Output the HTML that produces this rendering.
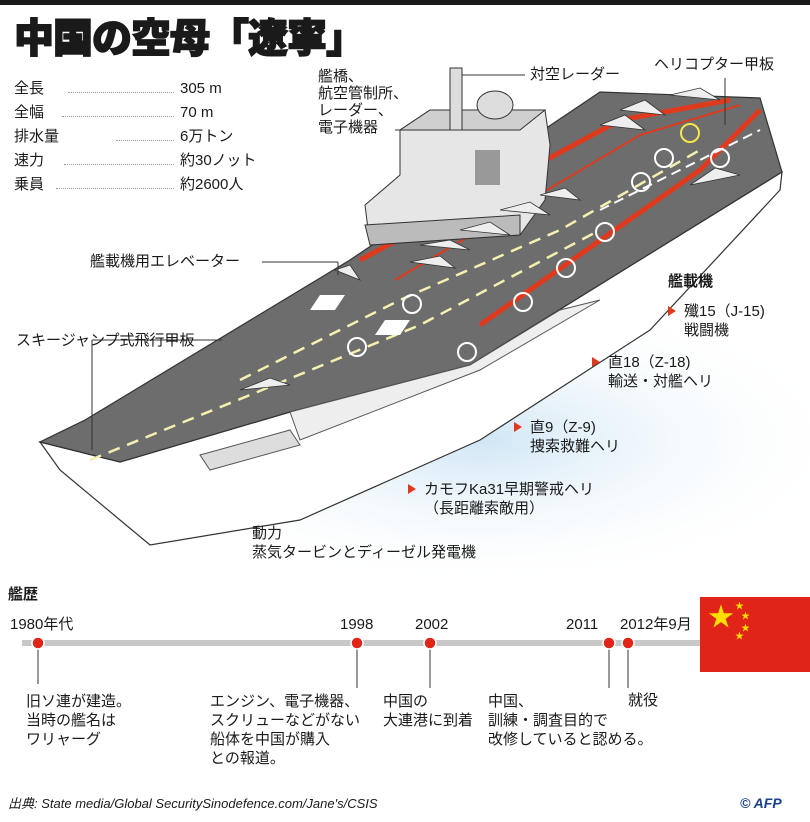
<!DOCTYPE html>
<html><head><meta charset="utf-8">
<style>
body{margin:0;background:#fff;}
#w{position:relative;width:810px;height:822px;overflow:hidden;font-family:"Liberation Sans","Noto Sans CJK JP",sans-serif;color:#1a1a1a;}
.t{position:absolute;font-size:15px;line-height:18px;white-space:nowrap;}
.dot{position:absolute;border-bottom:1px dotted #999;height:0;}
</style></head><body><div id="w">
<div style="position:absolute;left:0;top:0;width:810px;height:5px;background:#1a1a1a"></div>
<div class="t" style="left:14px;top:16px;font-size:40px;line-height:46px;font-weight:900;-webkit-text-stroke:1.5px #1a1a1a;letter-spacing:-1px">中国の空母「遼寧」</div>

<svg width="810" height="822" style="position:absolute;left:0;top:0">
<defs><radialGradient id="sea" cx="0.5" cy="0.5" r="0.5"><stop offset="0" stop-color="#cfe6f5"/><stop offset="1" stop-color="#fff" stop-opacity="0"/></radialGradient></defs>
<ellipse cx="480" cy="440" rx="380" ry="150" fill="url(#sea)"/>
<polygon points="40,442 60,470 150,545 300,520 480,440 650,330 780,190 782,172 470,365 290,412 120,462" fill="#fff" stroke="#333" stroke-width="1.2"/>
<polygon points="40,442 120,462 290,412 470,365 782,172 760,98 600,92 350,260 85,420" fill="#6d6d6d" stroke="#333" stroke-width="1.2"/>
<polygon points="290,412 470,365 560,310 600,300 480,370 300,440" fill="#eee" stroke="#555"/>
<polygon points="200,455 290,430 300,445 210,470" fill="#ddd" stroke="#555"/>
<polyline points="360,260 620,120 730,100" fill="none" stroke="#e03a1e" stroke-width="5"/>
<polyline points="480,325 700,170 760,110" fill="none" stroke="#e03a1e" stroke-width="5"/>
<polyline points="395,280 640,135 740,105" fill="none" stroke="#e03a1e" stroke-width="2"/>
<polyline points="90,460 250,395 420,325 600,230" fill="none" stroke="#f3f0b0" stroke-width="2.5" stroke-dasharray="12,8"/>
<polyline points="240,380 400,300 560,230 700,150" fill="none" stroke="#f3f0b0" stroke-width="2.5" stroke-dasharray="12,8"/>
<polyline points="600,210 700,160 760,130" fill="none" stroke="#fff" stroke-width="2" stroke-dasharray="10,6"/>
<g fill="none" stroke="#fff" stroke-width="2">
<circle cx="357" cy="347" r="9"/><circle cx="467" cy="352" r="9"/><circle cx="412" cy="304" r="9"/><circle cx="523" cy="302" r="9"/><circle cx="566" cy="268" r="9"/><circle cx="605" cy="232" r="9"/><circle cx="664" cy="158" r="9"/><circle cx="720" cy="158" r="9"/><circle cx="641" cy="182" r="9"/>
</g>
<circle cx="690" cy="133" r="9" fill="none" stroke="#f5e64a" stroke-width="2"/>
<polygon points="320,295 345,295 335,310 310,310" fill="#fff"/>
<polygon points="385,320 410,320 400,335 375,335" fill="#fff"/>
<polygon points="365,205 400,175 400,130 430,110 545,110 550,145 545,200 520,235 370,245" fill="#e6e6e6" stroke="#333"/>
<polygon points="400,130 430,110 545,110 520,130" fill="#cfcfcf" stroke="#333"/>
<rect x="450" y="68" width="12" height="62" fill="#ddd" stroke="#333"/>
<ellipse cx="495" cy="105" rx="18" ry="14" fill="#ddd" stroke="#333"/>
<rect x="475" y="150" width="25" height="35" fill="#999"/>
<polygon points="365,225 520,215 520,235 370,245" fill="#bbb" stroke="#333"/>
<g fill="#eee" stroke="#333" stroke-width="0.8">
<polygon points="420,245 470,250 450,240"/><polygon points="460,230 510,235 490,222"/><polygon points="500,210 550,215 530,202"/><polygon points="540,195 580,200 565,188"/>
<polygon points="410,262 455,268 440,256"/><polygon points="335,270 360,280 350,265"/>
<polygon points="240,390 290,385 270,378"/><polygon points="620,110 665,115 645,100"/><polygon points="600,125 645,130 625,115"/>
<polygon points="670,95 720,100 700,88"/><polygon points="690,185 740,175 715,168"/>
</g>
<g stroke="#333" stroke-width="1" fill="none">
<line x1="462" y1="75" x2="525" y2="75"/><line x1="395" y1="130" x2="425" y2="130"/>
<line x1="262" y1="262" x2="338" y2="262"/><line x1="338" y1="262" x2="338" y2="275"/>
<line x1="222" y1="340" x2="92" y2="340"/><line x1="92" y1="340" x2="92" y2="450"/>
<line x1="725" y1="78" x2="725" y2="125"/>
<line x1="38" y1="647" x2="38" y2="684"/><line x1="357" y1="647" x2="357" y2="688"/><line x1="430" y1="647" x2="430" y2="688"/><line x1="609" y1="647" x2="609" y2="688"/><line x1="628" y1="647" x2="628" y2="688"/>
</g>
<polygon points="668,306 676,311 668,316" fill="#e03a1e"/>
<polygon points="592,357 600,362 592,367" fill="#e03a1e"/>
<polygon points="514,422 522,427 514,432" fill="#e03a1e"/>
<polygon points="408,484 416,489 408,494" fill="#e03a1e"/>
<rect x="22" y="640" width="680" height="6" fill="#c8c8c8"/>
<g fill="#e02418" stroke="#fff" stroke-width="1.5"><circle cx="38" cy="643" r="6"/><circle cx="357" cy="643" r="6"/><circle cx="430" cy="643" r="6"/><circle cx="609" cy="643" r="6"/><circle cx="628" cy="643" r="6"/></g>
<rect x="700" y="597" width="110" height="75" fill="#e02418"/>
<text x="708" y="626" fill="#ffde00" font-size="26">★</text>
<g fill="#ffde00" font-size="9"><text x="735" y="609">★</text><text x="741" y="619">★</text><text x="741" y="631">★</text><text x="735" y="639">★</text></g>
</svg>

<div class="t" style="left:14px;top:80px">全長</div><div class="dot" style="left:68px;top:92px;width:106px"></div><div class="t" style="left:180px;top:80px">305 m</div>
<div class="t" style="left:14px;top:104px">全幅</div><div class="dot" style="left:62px;top:116px;width:112px"></div><div class="t" style="left:180px;top:104px">70 m</div>
<div class="t" style="left:14px;top:128px">排水量</div><div class="dot" style="left:116px;top:140px;width:58px"></div><div class="t" style="left:180px;top:128px">6万トン</div>
<div class="t" style="left:14px;top:152px">速力</div><div class="dot" style="left:64px;top:164px;width:110px"></div><div class="t" style="left:180px;top:152px">約30ノット</div>
<div class="t" style="left:14px;top:176px">乗員</div><div class="dot" style="left:56px;top:188px;width:118px"></div><div class="t" style="left:180px;top:176px">約2600人</div>

<div class="t" style="left:318px;top:68px;line-height:17px">艦橋、<br>航空管制所、<br>レーダー、<br>電子機器</div>
<div class="t" style="left:530px;top:66px">対空レーダー</div>
<div class="t" style="left:654px;top:56px">ヘリコプター甲板</div>
<div class="t" style="left:90px;top:253px">艦載機用エレベーター</div>
<div class="t" style="left:16px;top:332px">スキージャンプ式飛行甲板</div>
<div class="t" style="left:668px;top:273px;font-weight:bold">艦載機</div>
<div class="t" style="left:684px;top:302px;line-height:19px">殲15（J-15)<br>戦闘機</div>
<div class="t" style="left:608px;top:353px;line-height:19px">直18（Z-18)<br>輸送・対艦ヘリ</div>
<div class="t" style="left:530px;top:418px;line-height:19px">直9（Z-9)<br>捜索救難ヘリ</div>
<div class="t" style="left:424px;top:480px;line-height:19px">カモフKa31早期警戒ヘリ<br>（長距離索敵用）</div>
<div class="t" style="left:252px;top:524px;line-height:19px">動力<br>蒸気タービンとディーゼル発電機</div>

<div class="t" style="left:8px;top:586px;font-weight:bold">艦歴</div>
<div class="t" style="left:10px;top:616px">1980年代</div>
<div class="t" style="left:340px;top:616px">1998</div>
<div class="t" style="left:415px;top:616px">2002</div>
<div class="t" style="left:566px;top:616px">2011</div>
<div class="t" style="left:620px;top:616px">2012年9月</div>
<div class="t" style="left:26px;top:692px;line-height:19px">旧ソ連が建造。<br>当時の艦名は<br>ワリャーグ</div>
<div class="t" style="left:210px;top:692px;line-height:19px">エンジン、電子機器、<br>スクリューなどがない<br>船体を中国が購入<br>との報道。</div>
<div class="t" style="left:383px;top:692px;line-height:19px">中国の<br>大連港に到着</div>
<div class="t" style="left:488px;top:692px;line-height:19px">中国、<br>訓練・調査目的で<br>改修していると認める。</div>
<div class="t" style="left:628px;top:692px">就役</div>
<div class="t" style="left:8px;top:795px;font-size:13px;font-style:italic">出典: State media/Global SecuritySinodefence.com/Jane's/CSIS</div>
<div class="t" style="left:740px;top:794px;font-size:14px;font-weight:900;font-style:italic;color:#1a3f8c">© AFP</div>
</div></body></html>
